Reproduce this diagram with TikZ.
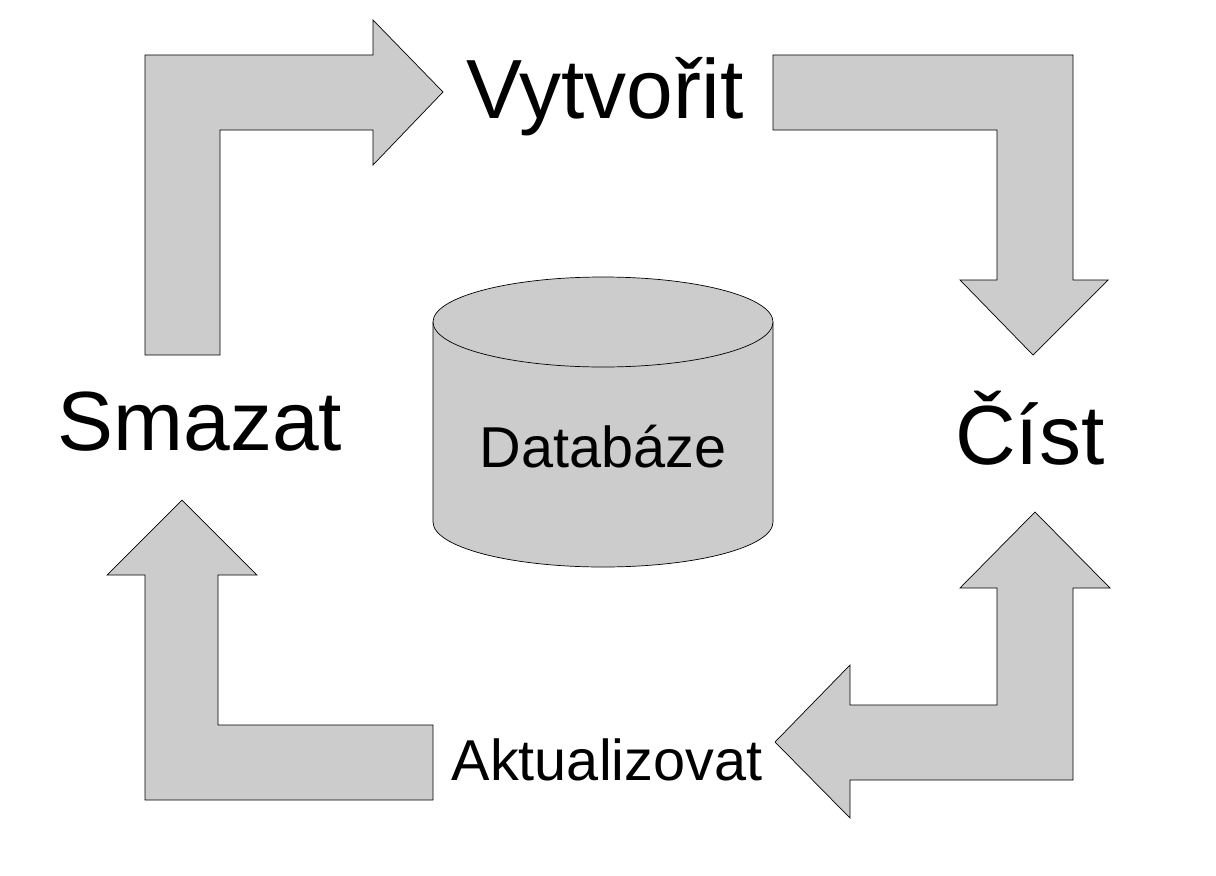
\documentclass[tikz,border=0pt]{standalone}
\usepackage{fontspec}
\setmainfont{Liberation Sans}
\definecolor{arrowgray}{HTML}{CCCCCC}
\begin{document}
\begin{tikzpicture}[x=0.02cm,y=-0.02cm,line join=miter,
  big arrow/.style={draw=black,fill=arrowgray,thin},
  main label/.style={font=\fontsize{47.8}{56}\selectfont},
  small label/.style={font=\fontsize{32.8}{38}\selectfont}]
\useasboundingbox (0,0) rectangle (1216,875);
% arrows
\draw[big arrow] (145,355) -- (145,55) -- (373,55) -- (373,20) -- (443,92) -- (373,165) -- (373,130) -- (220,130) -- (220,355) -- cycle;
\draw[big arrow] (773,55) -- (1073,55) -- (1073,280) -- (1108,280) -- (1033,355) -- (960,280) -- (997,280) -- (997,130) -- (773,130) -- cycle;
\draw[big arrow] (1073,780) -- (1073,588) -- (1110,588) -- (1035,512) -- (960,588) -- (997,588) -- (997,705) -- (850,705) -- (850,665) -- (775,742) -- (850,818) -- (850,780) -- cycle;
\draw[big arrow] (433,800) -- (145,800) -- (145,575) -- (107,575) -- (182,500) -- (257,575) -- (218,575) -- (218,725) -- (433,725) -- cycle;
% database
\draw[big arrow] (433,322) -- (433,522) arc[start angle=180,end angle=0,x radius=170,y radius=45] -- (773,322);
\draw[big arrow] (603,322) ellipse[x radius=170,y radius=45];
% labels
\node[main label] (create) at (605,97) {Vytvořit};
\node[main label] (read) at (1030,428) {Číst};
\node[main label] (delete) at (200,422) {Smazat};
\node[small label] (db) at (603,447) {Databáze};
\node[small label] (update) at (607,760) {Aktualizovat};
\end{tikzpicture}
\end{document}
